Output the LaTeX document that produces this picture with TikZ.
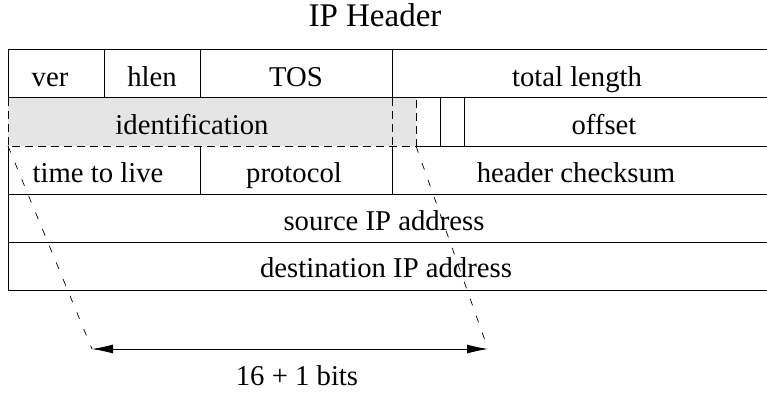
\documentclass[tikz,border=0pt]{standalone}
\usepackage{fontspec}
\setmainfont{Liberation Serif}
\usetikzlibrary{arrows.meta}
\definecolor{idgray}{gray}{0.9}

\begin{document}
\begin{tikzpicture}[x=1pt,y=-1pt,
    cell/.style={anchor=base,inner sep=0pt,font=\fontsize{28.7}{34}\selectfont},
    grid/.style={line width=1pt},
    iddash/.style={line width=1pt,dash pattern=on 8pt off 5pt},
    slant/.style={line width=0.7pt,dash pattern=on 7pt off 11pt}]
    \useasboundingbox (0,0) rectangle (767,393);
    \clip (0,0) rectangle (767,393);
    \node[anchor=base,inner sep=0pt,font=\fontsize{33}{40}\selectfont] (title) at (375,27) {IP Header};
    % identification field, shaded (16 bits + 1 flag bit)
    \fill[idgray] (8,98) rectangle (416,146);
    \draw[iddash] (8,98) rectangle (416,146);
    \draw[iddash] (392,98) -- (392,146);
    % rows
    \draw[grid] (8,50) -- (770,50);
    \draw[grid] (8,98) -- (770,98);
    \draw[grid] (416,146) -- (770,146);
    \draw[grid] (8,194) -- (770,194);
    \draw[grid] (8,242) -- (770,242);
    \draw[grid] (8,290) -- (770,290);
    % columns
    \draw[grid] (8,50) -- (8,98) (8,146) -- (8,290);
    \draw[grid] (104,50) -- (104,98);
    \draw[grid] (200,50) -- (200,98) (200,146) -- (200,194);
    \draw[grid] (392,50) -- (392,98) (392,146) -- (392,194);
    \draw[grid] (440,98) -- (440,146); % flag
    \draw[grid] (464,98) -- (464,146); % flag
    % fields
    \node[cell] (ver) at (50,87) {ver};
    \node[cell] (hlen) at (152,87) {hlen};
    \node[cell] (tos) at (296,87) {TOS};
    \node[cell] (totlen) at (577,87) {total length};
    \node[cell] (ident) at (192,134) {identification};
    \node[cell] (offset) at (604,134) {offset};
    \node[cell] (ttl) at (98,182) {time to live};
    \node[cell] (proto) at (294,182) {protocol};
    \node[cell] (cksum) at (576,182) {header checksum};
    \node[cell] (srcip) at (384,230) {source IP address};
    \node[cell] (dstip) at (386,277) {destination IP address};
    % width of the shaded field
    \coordinate (idl) at (8,146);
    \coordinate (idr) at (416,146);
    \coordinate (bl) at (92,349);
    \coordinate (br) at (488,349);
    \draw[slant] (idl) -- (bl);
    \draw[slant] (idr) -- (br);
    \draw[line width=0.8pt,{Latex[length=21pt,width=9pt]}-{Latex[length=21pt,width=9pt]}] (bl) -- (br);
    \node[cell] (bits) at (297,385) {16 + 1 bits};
\end{tikzpicture}
\end{document}
